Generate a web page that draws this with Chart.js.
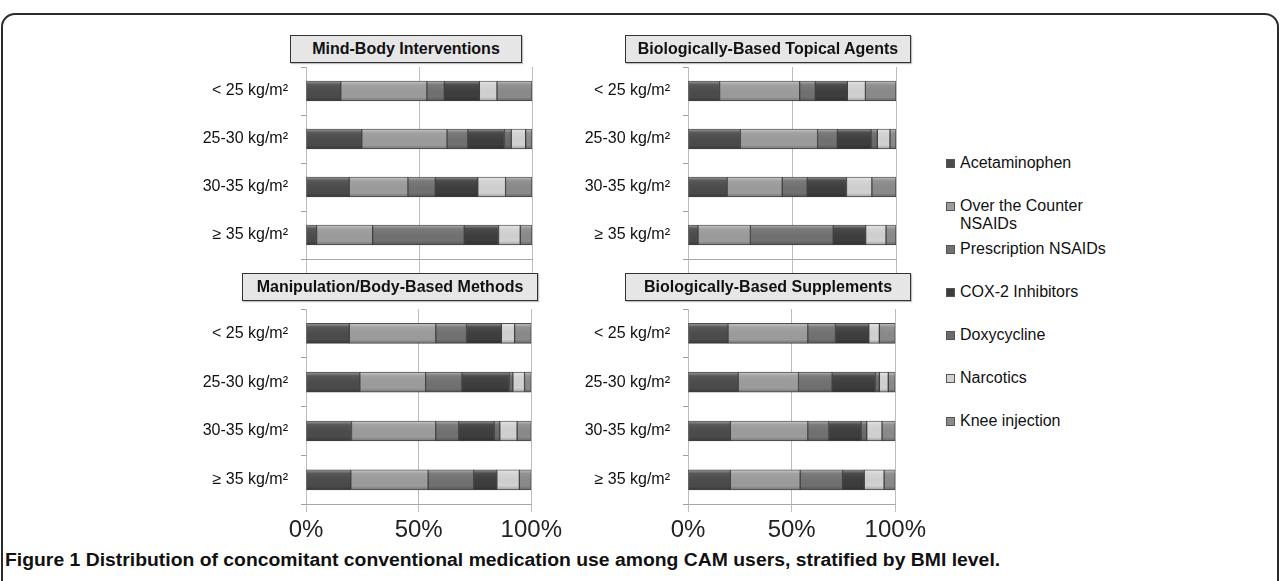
<!DOCTYPE html>
<html>
<head>
<meta charset="utf-8">
<script src="https://cdn.jsdelivr.net/npm/chart.js@4.4.1/dist/chart.umd.min.js"></script>
<style>
  body { margin: 0; background: #fff; width: 1282px; height: 581px; overflow: hidden; position: relative;
         font-family: "Liberation Sans", Arial, sans-serif; }
  #frame { position: absolute; left: 1px; top: 13px; width: 1278px; height: 640px;
           border: 2px solid #2b2b2b; border-radius: 14px; box-sizing: border-box; }
  .box { position: absolute; line-height: 0; }
  .title { position: absolute; background: #e6e6e6; border: 1.5px solid #333; box-sizing: border-box;
           font-weight: bold; font-size: 16px; text-align: center; line-height: 25px; color: #111;
           box-shadow: 1px 1px 1px rgba(0,0,0,0.25); }
  .leg { position: absolute; left: 946px; font-size: 16px; line-height: 18px; color: #111; }
  .leg i { position: absolute; left: 0; top: 5px; width: 9px; height: 9px; border: 1px solid #555; box-sizing: border-box; }
  .leg span { display: block; margin-left: 14px; width: 150px; }
  #caption { position: absolute; left: 5px; top: 550px; font-size: 18px; font-weight: bold; color: #111;
             white-space: nowrap; transform-origin: 0 0; }
</style>
</head>
<body>
<div id="frame"></div>

<div class="box" style="left:150px;top:67px;"><canvas id="c1" width="416" height="209"></canvas></div>
<div class="box" style="left:540px;top:67px;"><canvas id="c2" width="390" height="209"></canvas></div>
<div class="box" style="left:150px;top:309px;"><canvas id="c3" width="416" height="240"></canvas></div>
<div class="box" style="left:540px;top:309px;"><canvas id="c4" width="390" height="240"></canvas></div>

<div class="title" style="left:290px;top:35px;width:232px;height:28px;">Mind-Body Interventions</div>
<div class="title" style="left:625px;top:35px;width:286px;height:28px;">Biologically-Based Topical Agents</div>
<div class="title" style="left:242px;top:273px;width:296px;height:28px;">Manipulation/Body-Based Methods</div>
<div class="title" style="left:625px;top:273px;width:286px;height:28px;">Biologically-Based Supplements</div>

<div id="legend"></div>
<div id="caption">Figure 1 Distribution of concomitant conventional medication use among CAM users, stratified by BMI level.</div>

<script>
// categories (BMI groups) and series (medications)
var categories = ['< 25 kg/m²', '25-30 kg/m²', '30-35 kg/m²', '≥ 35 kg/m²'];
var seriesNames = ['Acetaminophen', 'Over the Counter NSAIDs', 'Prescription NSAIDs', 'COX-2 Inhibitors',
                   'Doxycycline', 'Narcotics', 'Knee injection'];
var seriesColors = ['#4b4b4b', '#9c9c9c', '#717171', '#3d3d3d', '#6b6b6b', '#d2d2d2', '#8a8a8a'];
var xTicks = [0, 50, 100];

// percentages per BMI group, in series order
var mindBody = [
  [15.4, 38.1, 7.7, 15.5, 0, 7.8, 15.5],
  [24.7, 37.7, 9.2, 16.2, 3.0, 6.4, 2.8],
  [19.1, 26.0, 12.1, 18.8, 0, 12.3, 11.7],
  [4.7, 24.8, 40.5, 15.2, 0, 9.6, 5.2]
];
var topical = [
  [15.2, 38.5, 7.5, 15.4, 0, 8.7, 14.7],
  [25.2, 37.1, 9.5, 16.2, 3.0, 6.1, 2.9],
  [18.8, 26.5, 12.0, 18.9, 0, 12.2, 11.6],
  [4.8, 25.2, 39.8, 15.6, 0, 9.8, 4.8]
];
var manipulation = [
  [19.2, 38.4, 13.6, 15.5, 0, 5.9, 7.4],
  [23.9, 29.2, 16.1, 21.1, 1.5, 5.2, 3.0],
  [20.2, 37.4, 10.2, 15.7, 2.5, 7.7, 6.3],
  [19.9, 34.3, 20.2, 10.3, 0, 10.0, 5.3]
];
var supplements = [
  [19.3, 38.5, 13.3, 16.1, 0, 5.1, 7.7],
  [24.2, 29.1, 16.2, 20.9, 1.9, 4.3, 3.4],
  [20.4, 37.4, 10.0, 15.7, 2.7, 7.4, 6.4],
  [20.4, 33.7, 20.5, 10.4, 0, 9.6, 5.4]
];

// ── bevel shading on each bar ────────────────────────────────────────────────
var bevel = {
  id: 'bevel',
  afterDatasetsDraw: function (chart) {
    var ctx = chart.ctx;
    for (var i = 0; i < chart.data.datasets.length; i++) {
      var bars = chart.getDatasetMeta(i).data;
      for (var j = 0; j < bars.length; j++) {
        var p = bars[j].getProps(['x', 'y', 'base', 'height'], true);
        var left = Math.min(p.x, p.base), w = Math.abs(p.x - p.base);
        if (w < 1) continue;
        var top = p.y - p.height / 2;
        var g = ctx.createLinearGradient(0, top, 0, top + p.height);
        g.addColorStop(0, 'rgba(255,255,255,0.45)');
        g.addColorStop(0.18, 'rgba(255,255,255,0.08)');
        g.addColorStop(0.8, 'rgba(0,0,0,0)');
        g.addColorStop(1, 'rgba(0,0,0,0.25)');
        ctx.save();
        ctx.fillStyle = g;
        ctx.fillRect(left + 0.5, top + 0.5, w - 1, p.height - 1);
        ctx.restore();
      }
    }
  }
};

function makePanel(id, rows, axisWidth, showX) {
  var datasets = [];
  for (var s = 0; s < seriesNames.length; s++) {
    var vals = [];
    for (var r = 0; r < rows.length; r++) vals.push(rows[r][s]);
    datasets.push({
      label: seriesNames[s],
      data: vals,
      backgroundColor: seriesColors[s],
      borderColor: 'rgba(50,50,50,0.9)',
      borderWidth: 1,
      borderSkipped: false,
      barThickness: 20
    });
  }
  return new Chart(document.getElementById(id).getContext('2d'), {
    type: 'bar',
    data: { labels: categories, datasets: datasets },
    plugins: [bevel],
    options: {
      indexAxis: 'y',
      responsive: false,
      animation: false,
      layout: { padding: { top: 0, right: 34, bottom: 0, left: 0 } },
      plugins: { legend: { display: false }, tooltip: { enabled: false } },
      scales: {
        x: {
          stacked: true, min: 0, max: 100,
          afterBuildTicks: function (scale) {
            scale.ticks = xTicks.map(function (v) { return { value: v }; });
          },
          grid: { color: '#bdbdbd', lineWidth: 1, tickLength: showX ? 8 : 17 },
          border: { display: true, color: '#a8a8a8' },
          ticks: {
            display: showX, padding: 4, color: '#222',
            font: { family: '"Liberation Sans", Arial, sans-serif', size: 24 },
            callback: function (v) { return v + '%'; }
          }
        },
        y: {
          stacked: true,
          afterFit: function (scale) {
            scale.width = axisWidth;
            scale.paddingTop = 0;
            scale.paddingBottom = 0;
          },
          grid: { drawOnChartArea: false, drawTicks: true, tickLength: 5, color: '#a0a0a0' },
          border: { display: false },
          ticks: { padding: 13, color: '#111', font: { family: '"Liberation Sans", Arial, sans-serif', size: 16 } }
        }
      }
    }
  });
}

makePanel('c1', mindBody, 156, false);
makePanel('c2', topical, 148, false);
makePanel('c3', manipulation, 156, true);
makePanel('c4', supplements, 148, true);

// ── legend ───────────────────────────────────────────────────────────────────
var legend = document.getElementById('legend');
for (var k = 0; k < seriesNames.length; k++) {
  var d = document.createElement('div');
  d.className = 'leg';
  d.style.top = (154 + 43 * k) + 'px';
  d.innerHTML = '<i style="background:' + seriesColors[k] + '"></i><span>' + seriesNames[k] + '</span>';
  legend.appendChild(d);
}

// caption squeezed to the reference width
var cap = document.getElementById('caption');
cap.style.transform = 'scaleX(' + (995 / cap.offsetWidth) + ')';
</script>
</body>
</html>
